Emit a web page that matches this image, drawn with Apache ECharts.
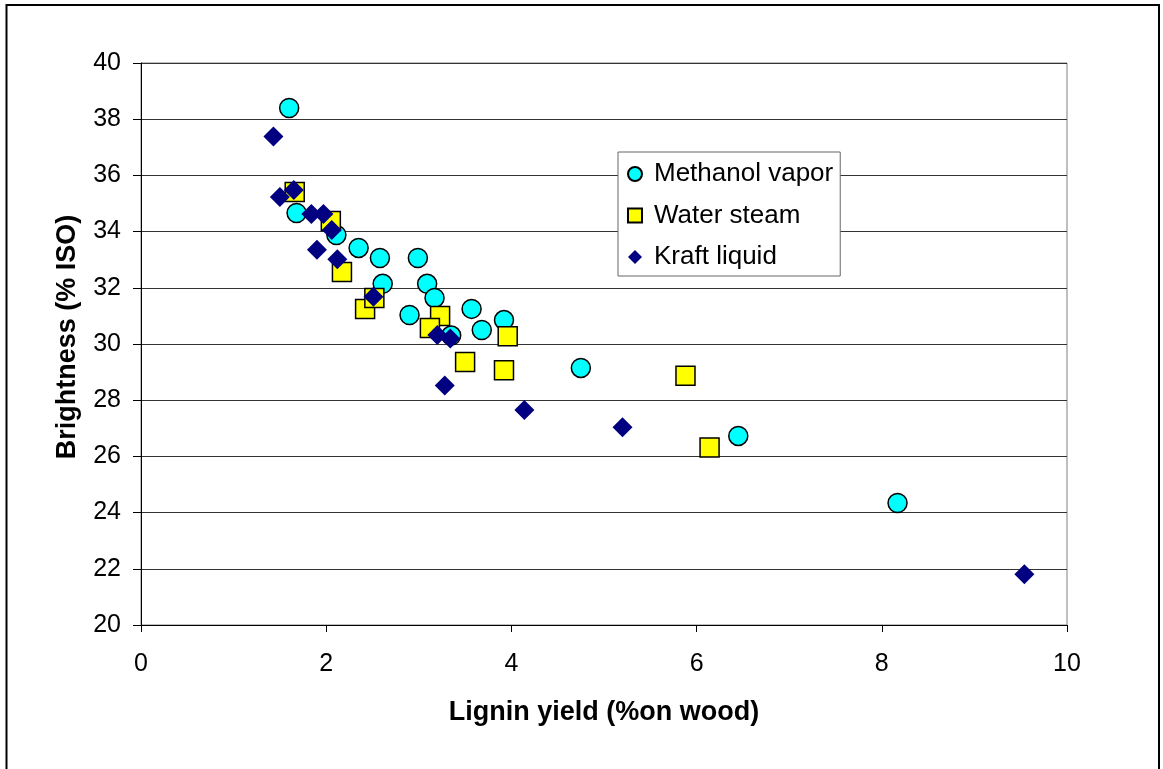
<!DOCTYPE html>
<html>
<head>
<meta charset="utf-8">
<title>Brightness vs lignin yield</title>
<script src="https://cdn.jsdelivr.net/npm/echarts@6/dist/echarts.min.js"></script>
<style>
  html, body { margin: 0; padding: 0; background: #fff; }
  #chart { width: 1163px; height: 769px; }
</style>
</head>
<body>
<div id="chart"></div>
<script>
// Lignin yield (% on wood) and brightness (% ISO) for each treatment
const methanolX = [1.60, 1.68, 2.11, 2.35, 2.58, 2.99, 2.61, 3.09, 3.17, 2.90, 3.57, 3.92, 3.68, 3.35, 4.75, 6.45, 8.17];
const methanolY = [38.40, 34.66, 33.88, 33.42, 33.06, 33.06, 32.14, 32.14, 31.64, 31.03, 31.25, 30.85, 30.50, 30.30, 29.15, 26.73, 24.34];

const steamX = [1.66, 2.05, 2.17, 2.42, 2.52, 3.23, 3.12, 3.96, 3.50, 3.92, 5.88, 6.14];
const steamY = [35.41, 34.38, 32.56, 31.25, 31.64, 31.00, 30.57, 30.28, 29.36, 29.07, 28.87, 26.32];

const kraftX = [1.43, 1.50, 1.65, 1.84, 1.97, 2.06, 1.90, 2.12, 2.51, 3.20, 3.34, 3.28, 4.14, 5.20, 9.54];
const kraftY = [37.38, 35.23, 35.48, 34.63, 34.63, 34.06, 33.35, 33.02, 31.68, 30.32, 30.20, 28.52, 27.65, 27.04, 21.81];

const seriesNames = ['Methanol vapor', 'Water steam', 'Kraft liquid'];
const xTitle = 'Lignin yield (%on wood)';
const yTitle = 'Brightness (% ISO)';

const pairs = (xs, ys) => xs.map((x, i) => [x, ys[i]]);
const FONT = '"Liberation Sans", Arial, sans-serif';

const chart = echarts.init(document.getElementById('chart'), null, { renderer: 'canvas' });

chart.setOption({
  backgroundColor: '#ffffff',
  animation: false,
  textStyle: { fontFamily: FONT },
  graphic: [{
    type: 'rect',
    shape: { x: 6.5, y: 5, width: 1152.5, height: 820 },
    style: { fill: 'none', stroke: '#000', lineWidth: 2 },
    silent: true,
    z: 100
  }],
  grid: {
    left: 141, top: 63, right: 96, bottom: 144,
    show: true, borderColor: '#808080', borderWidth: 1, backgroundColor: '#fff'
  },
  legend: {
    orient: 'vertical',
    left: 618, top: 152,
    padding: [8, 7, 5, 9],
    itemGap: 13.5,
    itemWidth: 14, itemHeight: 14,
    backgroundColor: '#fff',
    borderColor: '#666', borderWidth: 1,
    textStyle: { fontSize: 26, color: '#000', fontFamily: FONT, lineHeight: 28, padding: [0, 0, 0, 7] },
    data: seriesNames
  },
  xAxis: {
    type: 'value', min: 0, max: 10, interval: 2,
    name: xTitle, nameLocation: 'middle', nameGap: 74,
    nameTextStyle: { fontSize: 27, fontWeight: 'bold', color: '#000', fontFamily: FONT },
    axisLine: { lineStyle: { color: '#000', width: 1 } },
    axisTick: { show: true, length: 7, lineStyle: { color: '#000' } },
    axisLabel: { fontSize: 25, color: '#000', margin: 27, fontFamily: FONT },
    splitLine: { show: false }
  },
  yAxis: {
    type: 'value', min: 20, max: 40, interval: 2,
    name: yTitle, nameLocation: 'middle', nameGap: 60, nameRotate: 90,
    nameTextStyle: { fontSize: 27, fontWeight: 'bold', color: '#000', fontFamily: FONT, padding: [0, 0, 0, 14] },
    axisLine: { show: true, lineStyle: { color: '#000', width: 1 } },
    axisTick: { show: true, length: 8, lineStyle: { color: '#000' } },
    axisLabel: { fontSize: 25, color: '#000', margin: 20, fontFamily: FONT },
    splitLine: { show: true, lineStyle: { color: '#333', width: 1 } }
  },
  series: [
    {
      name: seriesNames[0], type: 'scatter', symbol: 'circle', symbolSize: 19, z: 2,
      itemStyle: { color: '#00ffff', borderColor: '#000', borderWidth: 1.5, opacity: 1 },
      data: pairs(methanolX, methanolY)
    },
    {
      name: seriesNames[1], type: 'scatter', symbol: 'rect', symbolSize: 19, z: 3,
      itemStyle: { color: '#ffff00', borderColor: '#000', borderWidth: 1.5, opacity: 1 },
      data: pairs(steamX, steamY)
    },
    {
      name: seriesNames[2], type: 'scatter', symbol: 'diamond', symbolSize: 20, z: 4,
      itemStyle: { color: '#000080', opacity: 1 },
      data: pairs(kraftX, kraftY)
    }
  ]
});
</script>
</body>
</html>
